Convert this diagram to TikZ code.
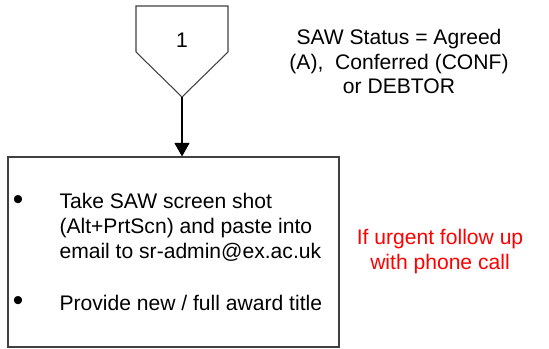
\documentclass[tikz,border=0pt]{standalone}
\usepackage{fontspec}
\setmainfont{Liberation Sans}
\usetikzlibrary{arrows.meta}
\begin{document}
\begin{tikzpicture}[line width=0.6pt, font=\fontsize{12}{14.2}\selectfont,
  txt/.style={inner sep=0pt, align=left, anchor=west},
  dot/.style={inner sep=0pt, font=\fontsize{17}{17}\selectfont}]
\useasboundingbox (0,0) rectangle (10.98,-6.96);
\draw[black!75] (2.72,-0.12) -- (4.56,-0.12) -- (4.56,-1.04) -- (3.64,-1.94) -- (2.72,-1.04) -- cycle;
\coordinate (c) at (3.64,-1.94);
\node (n) at (3.64,-0.80) {1};
\node[draw=black!75, minimum width=6.62cm, minimum height=3.80cm, inner sep=0pt] (box) at (3.47,-5.04) {};
\node[dot] (b1) at (0.36,-4.06) {\textbullet};
\node[txt] (t1) at (1.18,-4.54) {Take SAW screen shot\\(Alt+PrtScn) and paste into\\email to sr-admin@ex.ac.uk};
\node[dot] (b2) at (0.36,-6.08) {\textbullet};
\node[txt] (t2) at (1.18,-6.06) {Provide new / full award title};
\node[align=center, inner sep=0pt] (s) at (7.98,-1.23) {SAW Status = Agreed\\(A),~ Conferred (CONF)\\or DEBTOR};
\node[align=center, inner sep=0pt, text=red] (f) at (8.80,-5.04) {If urgent follow up\\with phone call};
\draw[-{Triangle[length=0.27cm, width=0.30cm]}] (c) -- (c |- box.north);
\end{tikzpicture}
\end{document}
